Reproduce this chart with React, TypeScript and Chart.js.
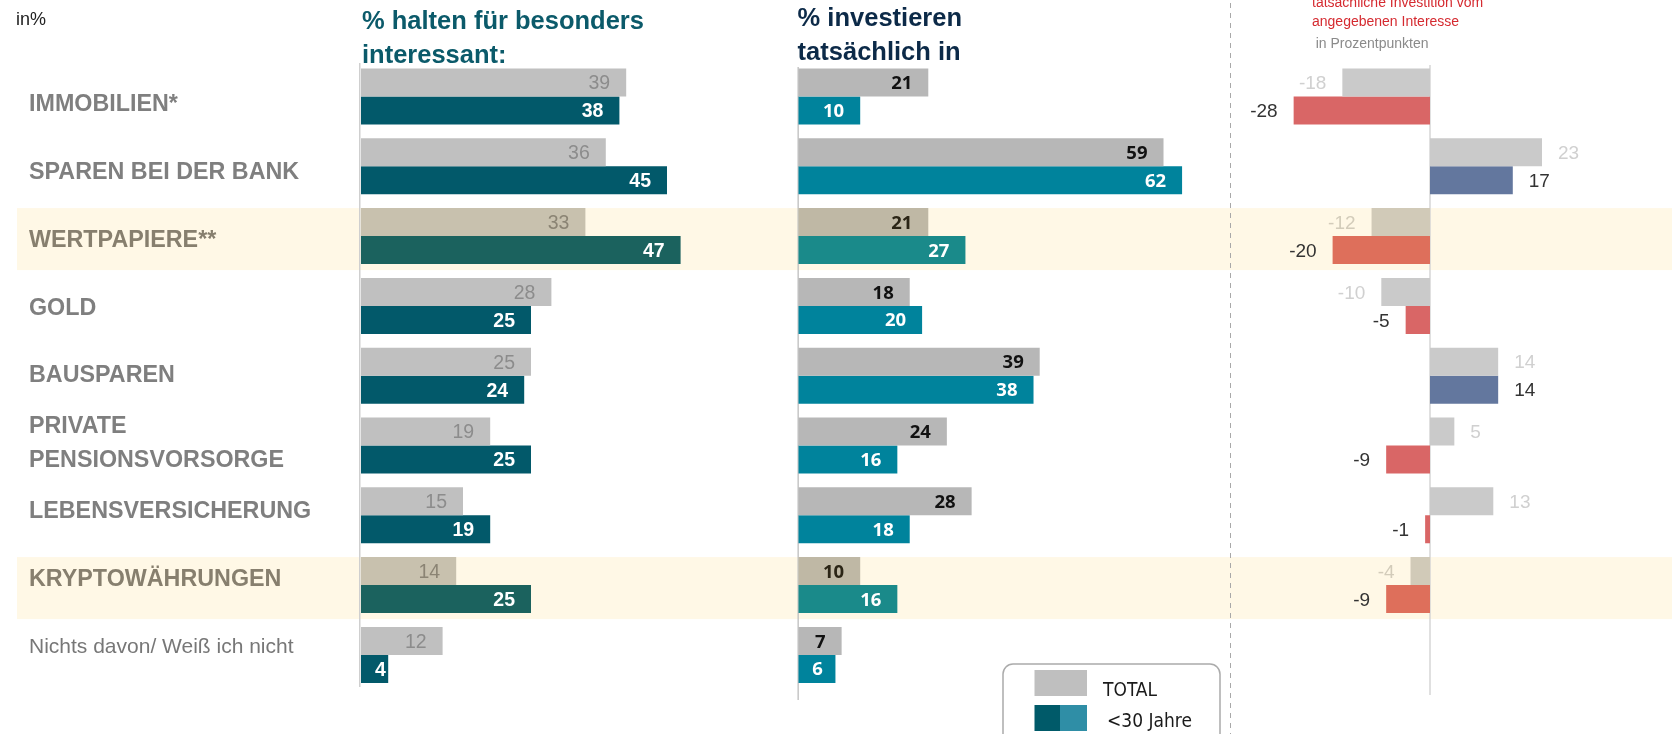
import React, { useEffect, useRef } from "react";
import { Chart, registerables } from "chart.js";

Chart.register(...registerables);

// ---------------- data ----------------
const categories: string[][] = [
  ["IMMOBILIEN*"],
  ["SPAREN BEI DER BANK"],
  ["WERTPAPIERE**"],
  ["GOLD"],
  ["BAUSPAREN"],
  ["PRIVATE", "PENSIONSVORSORGE"],
  ["LEBENSVERSICHERUNG"],
  ["KRYPTOWÄHRUNGEN"],
  ["Nichts davon/ Weiß ich nicht"],
];
const highlightedCategories = ["WERTPAPIERE**", "KRYPTOWÄHRUNGEN"];
const seriesNames = ["TOTAL", "<30 Jahre"];

const interestTotal = [39, 36, 33, 28, 25, 19, 15, 14, 12];
const interestYoung = [38, 45, 47, 25, 24, 25, 19, 25, 4];
const investTotal = [21, 59, 21, 18, 39, 24, 28, 10, 7];
const investYoung = [10, 62, 27, 20, 38, 16, 18, 16, 6];
const diffTotal: (number | null)[] = [-18, 23, -12, -10, 14, 5, 13, -4, null];
const diffYoung: (number | null)[] = [-28, 17, -20, -5, 14, -9, -1, -9, null];

const unitLabel = "in%";
const titleInterest = ["% halten für besonders", "interessant:"];
const titleInvest = ["% investieren", "tatsächlich in"];
const titleDiff = ["tatsächliche Investition vom", "angegebenen Interesse"];
const subtitleDiff = "in Prozentpunkten";

// ---------------- styling ----------------
const SANS = '"Liberation Sans", Arial, sans-serif';
const OPEN = '"Open Sans", "Liberation Sans", sans-serif';
const NARROW = '"Liberation Sans Narrow", "DejaVu Sans Condensed", sans-serif';
const PAGE_H = 734;
const PLOT_TOP = 61.6;
const PLOT_BOTTOM = 689.8;
const BAND = "#FFF8E6";

const isHL = (i: number) => highlightedCategories.includes(categories[i][0]);

type LabelStyle = { size: number; weight: string; family: string; color: string; bandColor: string };

function bandPlugin(x0: number) {
  return {
    id: "bands",
    beforeDatasetsDraw(chart: any) {
      const ctx = chart.ctx;
      const y = chart.scales.y;
      ctx.save();
      ctx.fillStyle = BAND;
      categories.forEach((_, i) => {
        if (!isHL(i)) return;
        const c = y.getPixelForValue(i) + 3;
        ctx.fillRect(x0, c - 31, chart.width - x0, 62);
      });
      ctx.restore();
    },
  };
}

function axisLinePlugin(color: string, width: number, dx: number, extTop: number, extBottom: number) {
  return {
    id: "axisLine",
    beforeDatasetsDraw(chart: any) {
      const ctx = chart.ctx;
      const x = chart.scales.x.getPixelForValue(0) + dx;
      const { top, bottom } = chart.chartArea;
      ctx.save();
      ctx.fillStyle = color;
      ctx.fillRect(x, top + extTop, width, bottom + extBottom - (top + extTop));
      ctx.restore();
    },
  };
}

function valueLabelPlugin(mode: "inside" | "outside", styles: LabelStyle[]) {
  return {
    id: "valueLabels",
    afterDatasetsDraw(chart: any) {
      const ctx = chart.ctx;
      chart.data.datasets.forEach((ds: any, di: number) => {
        const meta = chart.getDatasetMeta(di);
        const st = styles[di];
        meta.data.forEach((el: any, i: number) => {
          const v = ds.data[i];
          if (v === null || v === undefined) return;
          const { x, y, base } = el.getProps(["x", "y", "base"], true);
          const text = String(v);
          ctx.save();
          ctx.font = `${st.weight} ${st.size}px ${st.family}`;
          ctx.fillStyle = isHL(i) ? st.bandColor : st.color;
          ctx.textBaseline = "alphabetic";
          const w = ctx.measureText(text).width;
          const by = y + st.size * 0.357;
          if (mode === "inside") {
            const len = x - base;
            const inset = Math.min(16, Math.max(1, len - w - 14));
            ctx.textAlign = "right";
            ctx.fillText(text, x - inset, by);
          } else if (v < 0) {
            ctx.textAlign = "right";
            ctx.fillText(text, x - 16, by);
          } else {
            ctx.textAlign = "left";
            ctx.fillText(text, x + 16, by);
          }
          ctx.restore();
        });
      });
    },
  };
}

function textLines(ctx: CanvasRenderingContext2D, lines: string[], x: number, baselines: number[], font: string, color: string) {
  ctx.save();
  ctx.font = font;
  ctx.fillStyle = color;
  ctx.textAlign = "left";
  ctx.textBaseline = "alphabetic";
  lines.forEach((l, k) => ctx.fillText(l, x, baselines[k]));
  ctx.restore();
}

const leftTextPlugin = {
  id: "leftText",
  afterDraw(chart: any) {
    const ctx = chart.ctx as CanvasRenderingContext2D;
    const y = chart.scales.y;
    textLines(ctx, [unitLabel], 16, [25], `normal 18px ${SANS}`, "#222222");
    textLines(ctx, titleInterest, 362, [29.3, 63.3], `bold 25.5px ${SANS}`, "#0B5A6A");
    // category labels follow the category scale, with a slightly tighter line pitch
    const first = y.getPixelForValue(0);
    const squeeze = 0.9706;
    categories.forEach((lines, i) => {
      const c = first + 6.5 + (y.getPixelForValue(i) - first) * squeeze;
      const upper = lines[0] === lines[0].toUpperCase();
      const size = upper ? 23.3 : 21;
      ctx.save();
      ctx.font = `${upper ? "bold" : "normal"} ${size}px ${SANS}`;
      ctx.fillStyle = isHL(i) ? "#877F6E" : upper ? "#7F7F7F" : "#777777";
      ctx.textAlign = "left";
      ctx.textBaseline = "alphabetic";
      const lh = 34.7;
      lines.forEach((ln, k) => {
        const yy = c + (k - (lines.length - 1) / 2) * lh + size * 0.358;
        ctx.fillText(ln, 29, yy);
      });
      ctx.restore();
    });
  },
};

const middleTextPlugin = {
  id: "middleText",
  afterDraw(chart: any) {
    const ctx = chart.ctx as CanvasRenderingContext2D;
    textLines(ctx, titleInvest, 7.6, [26, 60], `bold 25.5px ${SANS}`, "#0C2A48");
    // legend
    const bx = 213, by = 664, bw = 217, bh = 120, r = 10;
    ctx.save();
    ctx.strokeStyle = "#ABABAB";
    ctx.lineWidth = 1.5;
    ctx.beginPath();
    ctx.moveTo(bx + r, by);
    ctx.lineTo(bx + bw - r, by);
    ctx.arcTo(bx + bw, by, bx + bw, by + r, r);
    ctx.lineTo(bx + bw, by + bh);
    ctx.moveTo(bx, by + bh);
    ctx.lineTo(bx, by + r);
    ctx.arcTo(bx, by, bx + r, by, r);
    ctx.stroke();
    ctx.fillStyle = "#BFBFBF";
    ctx.fillRect(244.5, 670, 52.5, 26);
    ctx.fillStyle = "#005A69";
    ctx.fillRect(244.5, 705, 25.5, 26);
    ctx.fillStyle = "#2F8EA6";
    ctx.fillRect(270, 705, 27, 26);
    ctx.restore();
    textLines(ctx, [seriesNames[0]], 313, [696], `normal 19px ${NARROW}`, "#1A1A1A");
    textLines(ctx, [seriesNames[1]], 317, [727], `normal 19px ${NARROW}`, "#1A1A1A");
  },
};

const rightTextPlugin = {
  id: "rightText",
  afterDraw(chart: any) {
    const ctx = chart.ctx as CanvasRenderingContext2D;
    textLines(ctx, titleDiff, 87, [7, 26], `normal 14px ${SANS}`, "#D52A30");
    textLines(ctx, [subtitleDiff], 90.7, [48.3], `normal 14px ${SANS}`, "#8A8A8A");
    ctx.save();
    ctx.strokeStyle = "#A8A8A8";
    ctx.lineWidth = 1;
    ctx.setLineDash([5, 5]);
    ctx.lineDashOffset = -3;
    ctx.beginPath();
    ctx.moveTo(5.5, 0);
    ctx.lineTo(5.5, PAGE_H);
    ctx.stroke();
    ctx.restore();
  },
};

function baseOptions(width: number, padLeft: number, min: number, max: number, pxPerUnit: number) {
  const padRight = width - padLeft - (max - min) * pxPerUnit;
  return {
    indexAxis: "y" as const,
    responsive: false,
    maintainAspectRatio: false,
    animation: false as const,
    devicePixelRatio: 1,
    events: [],
    layout: { padding: { left: padLeft, right: padRight, top: PLOT_TOP, bottom: PAGE_H - PLOT_BOTTOM } },
    plugins: { legend: { display: false }, tooltip: { enabled: false }, title: { display: false } },
    scales: {
      x: { type: "linear" as const, min, max, display: false, grid: { display: false } },
      y: { type: "category" as const, display: false, grid: { display: false } },
    },
  };
}

const barDefaults = { categoryPercentage: 0.802, barPercentage: 1, borderWidth: 0 };

export default function App() {
  const leftRef = useRef<HTMLCanvasElement>(null);
  const midRef = useRef<HTMLCanvasElement>(null);
  const rightRef = useRef<HTMLCanvasElement>(null);

  useEffect(() => {
    const labels = categories.map((c) => c.join(" "));
    const charts: Chart[] = [];

    charts.push(
      new Chart(leftRef.current!, {
        type: "bar",
        data: {
          labels,
          datasets: [
            { ...barDefaults, label: seriesNames[0], data: interestTotal, backgroundColor: categories.map((_, i) => (isHL(i) ? "#C8C1AE" : "#C0C0C0")) },
            { ...barDefaults, label: seriesNames[1], data: interestYoung, backgroundColor: categories.map((_, i) => (isHL(i) ? "#1B625E" : "#02596A")) },
          ],
        },
        options: baseOptions(790, 361, 0, 60, 6.8) as any,
        plugins: [
          bandPlugin(17),
          axisLinePlugin("#CFCFCF", 1.5, -2, 1.4, -2.8),
          valueLabelPlugin("inside", [
            { size: 19.5, weight: "normal", family: SANS, color: "#8C8C8C", bandColor: "#8B8474" },
            { size: 19.5, weight: "bold", family: SANS, color: "#FFFFFF", bandColor: "#FFFFFF" },
          ]),
          leftTextPlugin,
        ],
      })
    );

    charts.push(
      new Chart(midRef.current!, {
        type: "bar",
        data: {
          labels,
          datasets: [
            { ...barDefaults, label: seriesNames[0], data: investTotal, backgroundColor: categories.map((_, i) => (isHL(i) ? "#BFB8A5" : "#B7B7B7")) },
            { ...barDefaults, label: seriesNames[1], data: investYoung, backgroundColor: categories.map((_, i) => (isHL(i) ? "#1A8A8A" : "#00839C")) },
          ],
        },
        options: baseOptions(435, 8.3, 0, 65, 6.19) as any,
        plugins: [
          bandPlugin(0),
          axisLinePlugin("#BDBDBD", 1.3, -0.8, 5.4, 10.2),
          valueLabelPlugin("inside", [
            { size: 18.5, weight: "bold", family: OPEN, color: "#111111", bandColor: "#2B2516" },
            { size: 18.5, weight: "bold", family: OPEN, color: "#FFFFFF", bandColor: "#FFFFFF" },
          ]),
          middleTextPlugin,
        ],
      })
    );

    charts.push(
      new Chart(rightRef.current!, {
        type: "bar",
        data: {
          labels,
          datasets: [
            { ...barDefaults, label: seriesNames[0], data: diffTotal, backgroundColor: categories.map((_, i) => (isHL(i) ? "#D1CAB8" : "#CACACA")) },
            {
              ...barDefaults,
              label: seriesNames[1],
              data: diffYoung,
              backgroundColor: diffYoung.map((v, i) => ((v ?? 0) < 0 ? (isHL(i) ? "#DE6F5B" : "#D96666") : "#63779E")),
            },
          ],
        },
        options: baseOptions(447, 34.55, -35, 45, 4.87) as any,
        plugins: [
          bandPlugin(0),
          axisLinePlugin("#D3D3D3", 1.4, -0.7, 3.4, 5.2),
          valueLabelPlugin("outside", [
            { size: 19, weight: "normal", family: SANS, color: "#D0D0D0", bandColor: "#D3CCBA" },
            { size: 19, weight: "normal", family: SANS, color: "#333333", bandColor: "#333333" },
          ]),
          rightTextPlugin,
        ],
      })
    );

    return () => charts.forEach((c) => c.destroy());
  }, []);

  return (
    <div style={{ position: "absolute", left: 0, top: 0, width: 1672, height: PAGE_H, overflow: "hidden", background: "#FFFFFF" }}>
      <canvas ref={leftRef} width={790} height={PAGE_H} style={{ position: "absolute", left: 0, top: 0 }} />
      <canvas ref={midRef} width={435} height={PAGE_H} style={{ position: "absolute", left: 790, top: 0 }} />
      <canvas ref={rightRef} width={447} height={PAGE_H} style={{ position: "absolute", left: 1225, top: 0 }} />
    </div>
  );
}
